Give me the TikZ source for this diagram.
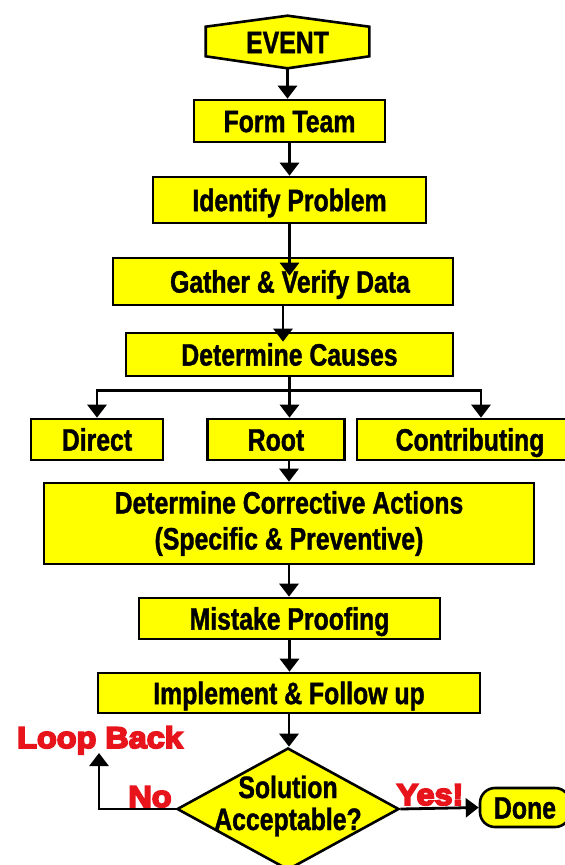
\documentclass[tikz,border=0pt]{standalone}
\usepackage{fontspec}
\newfontfamily\boxfont{Liberation Sans Bold}[FakeStretch=0.8,FakeBold=1.2]
\newfontfamily\redfont{Liberation Sans Bold}[FakeStretch=1.08,FakeBold=6]
\usetikzlibrary{arrows.meta,shapes.geometric,backgrounds,calc}
\definecolor{boxyellow}{HTML}{FFFF00}
\definecolor{labelred}{HTML}{E8141B}
\begin{document}
\begin{tikzpicture}[x=1pt,y=-1pt,
  boxbase/.style={draw=black, line width=2.6pt, fill=boxyellow, inner sep=0pt,
    font=\boxfont\fontsize{31}{36}\selectfont},
  box/.style={boxbase, text height=22.2pt, text depth=0pt},
  conn/.style={line width=2.8pt, -{Triangle[width=19pt,length=13pt]}},
  plainline/.style={line width=2.8pt},
  redlabel/.style={text=labelred, font=\redfont\fontsize{30}{36}\selectfont, inner sep=0pt, anchor=base}]
\useasboundingbox (0,0) rectangle (565,865);

% nodes
\node[box, draw=none, fill=none, minimum width=161pt, minimum height=52pt] (event) at (287.5,42) {EVENT};
\node[box, minimum width=191pt, minimum height=42pt] (form) at (289.5,121) {Form Team};
\node[box, minimum width=273pt, minimum height=46pt] (ident) at (289.5,200) {Identify Problem};
\node[box, minimum width=340pt, minimum height=47pt] (gather) at (283,281.5) {\hspace*{14pt}Gather \& Verify Data};
\node[box, minimum width=327pt, minimum height=43pt] (causes) at (289.5,354.5) {Determine Causes};
\node[box, minimum width=132pt, minimum height=41pt] (direct) at (97,439.5) {Direct};
\node[box, minimum width=136.5pt, minimum height=41pt] (root) at (276,439.5) {Root};
\node[box, minimum width=226pt, minimum height=41pt] (contrib) at (470,439.5) {Contributing};
\node[boxbase, align=center, minimum width=490pt, minimum height=81pt] (corr) at (289,523.5)
  {Determine Corrective Actions\\(Specific \& Preventive)};
\node[box, minimum width=301pt, minimum height=41pt] (mist) at (289.5,618.5) {Mistake Proofing};
\node[box, minimum width=382pt, minimum height=40pt] (impl) at (289,693) {Implement \& Follow up};
\node[diamond, draw=black, fill=boxyellow, line width=2.6pt, inner sep=0pt,
  minimum width=222pt, minimum height=122pt] (dia) at (288,809) {};
\node[align=center, inner sep=0pt, font=\boxfont\fontsize{31}{32}\selectfont] (diatext) at (288,806)
  {Solution\\Acceptable?};
\node[box, rounded corners=15pt, minimum width=90pt, minimum height=39pt] (done) at (525,807.5) {Done};

\node[redlabel] (loop) at (100,748) {Loop Back};
\node[redlabel] (no) at (150,807) {No};
\node[redlabel] (yes) at (430,805) {Yes!};

% hexagon and background
\begin{scope}[on background layer]
  \fill[white] (0,0) rectangle (565,865);
  \draw[line width=2.6pt, fill=boxyellow, line join=miter]
    ([yshift=-1pt]event.north) -- ($(event.north east)+(0,12)$) -- ($(event.south east)+(0,-13)$)
    -- ([yshift=1pt]event.south) -- ($(event.south west)+(0,-13)$) -- ($(event.north west)+(0,12)$) -- cycle;
\end{scope}

% connectors
\draw[conn] ([yshift=1pt]event.south) -- (event.south |- form.north);
\draw[conn] (form.south) -- (ident.north);
\draw[conn, shorten >=-19pt] (ident.south) -- (ident.south |- gather.north);
\draw[conn, shorten >=-10pt] (gather.south) -- (gather.south |- causes.north);
\coordinate (jn) at ($(causes.south)+(0,13)$);
\draw[plainline] (causes.south) -- (jn);
\draw[conn] (jn) -- (jn |- root.north);
\draw[conn] (jn) -| (direct.north);
\draw[conn] (jn) -| ($(contrib.north)+(11,0)$);
\draw[conn] (corr.north |- root.south) -- (corr.north);
\draw[conn] (corr.south) -- (corr.south |- mist.north);
\draw[conn] (mist.south) -- (mist.south |- impl.north);
\draw[conn] (impl.south) -- (impl.south |- dia.north);
\coordinate (lb) at (99,753);
\draw[conn] (dia.west) -| (lb);
\draw[conn] (dia.east) -- (done.west);
\end{tikzpicture}
\end{document}
